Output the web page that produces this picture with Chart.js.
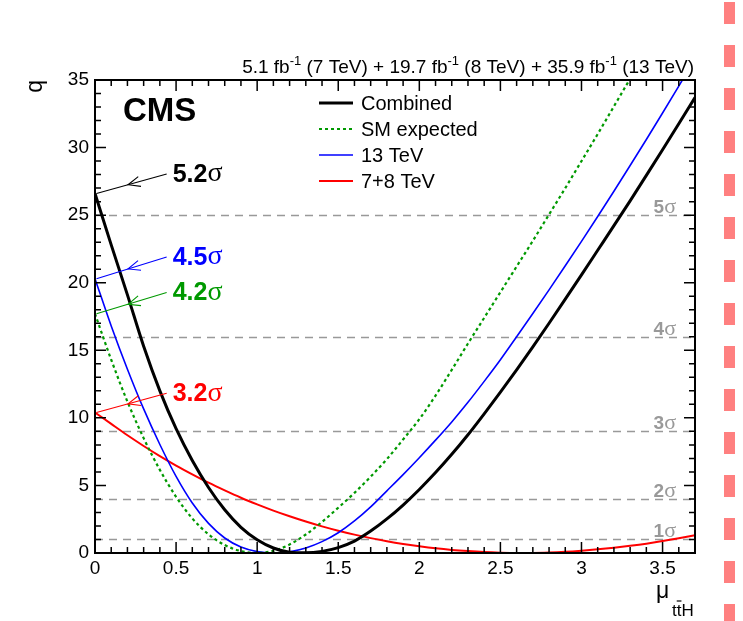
<!DOCTYPE html>
<html>
<head>
<meta charset="utf-8">
<script src="https://cdn.jsdelivr.net/npm/chart.js@4/dist/chart.umd.min.js"></script>
<style>
  html, body { margin: 0; padding: 0; background: #fff; }
  #wrap { position: relative; width: 743px; height: 621px; }
  #edge {
    position: absolute; left: 724px; top: 0; width: 11px; height: 621px;
    background: repeating-linear-gradient(to bottom, transparent 0 2px, #ff8080 2px 24px, transparent 24px 43px);
  }
</style>
</head>
<body>
<div id="wrap">
  <canvas id="chart" width="743" height="621"></canvas>
  <div id="edge"></div>
</div>
<script>
// signal strength grid
const mu = [0, 0.1, 0.2, 0.3, 0.4, 0.5, 0.6, 0.7, 0.8, 0.9,
            1.0, 1.1, 1.2, 1.3, 1.4, 1.5, 1.6, 1.7, 1.8, 1.9,
            2.0, 2.1, 2.2, 2.3, 2.4, 2.5, 2.6, 2.7, 2.8, 2.9,
            3.0, 3.1, 3.2, 3.3, 3.4, 3.5, 3.6, 3.7];

const combined = [26.6, 22.8, 19.1, 15.3, 12.0, 9.2, 6.85, 4.85, 3.2, 1.9,
                  0.98, 0.37, 0.06, 0.01, 0.12, 0.40, 0.88, 1.62, 2.52, 3.55,
                  4.7, 5.95, 7.3, 8.75, 10.3, 11.9, 13.55, 15.25, 17.0, 18.78,
                  20.58, 22.4, 24.22, 26.06, 27.94, 29.84, 31.76, 33.7];

const smExpected = [17.7, 14.3, 11.2, 8.5, 6.15, 4.16, 2.56, 1.38, 0.59, 0.14,
                    0.0, 0.16, 0.63, 1.37, 2.3, 3.35, 4.45, 5.65, 6.95, 8.4,
                    9.9, 11.65, 13.55, 15.5, 17.4, 19.3, 21.2, 23.1, 25.05, 27.0,
                    29.0, 31.0, 33.05, 35.1, 37.2, 39.3, 41.4, 43.5];

const tev13 = [20.3, 16.8, 13.6, 10.66, 8.03, 5.67, 3.7, 2.19, 1.11, 0.44,
               0.1, 0.0, 0.09, 0.37, 0.84, 1.5, 2.37, 3.41, 4.6, 5.8,
               7.05, 8.35, 9.7, 11.15, 12.7, 14.3, 16.0, 17.72, 19.47, 21.25,
               23.06, 24.9, 26.77, 28.67, 30.6, 32.56, 34.55, 36.57];

const tev78 = [10.4, 9.55, 8.71, 7.92, 7.17, 6.47, 5.82, 5.2, 4.63, 4.09,
               3.6, 3.14, 2.72, 2.33, 1.97, 1.65, 1.36, 1.1, 0.87, 0.67,
               0.5, 0.35, 0.23, 0.14, 0.07, 0.026, 0.003, 0.003, 0.03, 0.087,
               0.17, 0.27, 0.39, 0.53, 0.69, 0.88, 1.09, 1.32];

const seriesNames = ['Combined', 'SM expected', '13 TeV', '7+8 TeV'];
const seriesColors = ['#000000', '#009900', '#0000ff', '#ff0000'];

// horizontal significance levels (q = n^2)
const sigmaLevels = [1, 4, 9, 16, 25];
const sigmaNames = ['1', '2', '3', '4', '5'];

// significance at mu = 0 per series, and where its label sits (mu, q)
const signifText = ['5.2', '4.2', '4.5', '3.2'];
const signifLabelMu = [0.442, 0.442, 0.442, 0.442];
const signifLabelQ = [28.05, 19.27, 21.9, 11.82];

const SANS = '"Liberation Sans", Arial, Helvetica, sans-serif';
const SERIF = '"Liberation Serif", "Times New Roman", serif';

const pts = vals => mu.map((m, i) => ({ x: m, y: vals[i] }));
const allSeries = [combined, smExpected, tev13, tev78];
const widths = [3, 2.2, 1.6, 2];
const dashes = [[], [3, 3], [], []];

const decor = {
  id: 'decor',
  beforeDatasetsDraw(chart) {
    const { ctx, chartArea: a, scales: { x, y } } = chart;
    ctx.save();
    ctx.strokeStyle = '#999';
    ctx.lineWidth = 1.5;
    ctx.setLineDash([8, 6]);
    sigmaLevels.forEach(q => {
      const py = Math.round(y.getPixelForValue(q)) + 0.5;
      ctx.beginPath(); ctx.moveTo(a.left, py); ctx.lineTo(a.right, py); ctx.stroke();
    });
    ctx.setLineDash([]);
    ctx.fillStyle = '#999';
    ctx.textBaseline = 'alphabetic';
    sigmaLevels.forEach((q, i) => {
      const py = y.getPixelForValue(q) - 2;
      ctx.font = '22px ' + SERIF;
      ctx.textAlign = 'right';
      ctx.fillText('σ', 676, py);
      const sw = ctx.measureText('σ').width;
      ctx.font = 'bold 19px ' + SANS;
      ctx.fillText(sigmaNames[i], 676 - sw, py);
    });
    ctx.restore();
  },
  afterDraw(chart) {
    const { ctx, chartArea: a, scales: { x, y } } = chart;
    ctx.save();

    // frame
    ctx.strokeStyle = '#000';
    ctx.lineWidth = 2;
    ctx.strokeRect(a.left, a.top, a.right - a.left, a.bottom - a.top);

    // inward ticks on all four sides
    ctx.lineWidth = 1.5;
    ctx.beginPath();
    for (let k = 0; k <= 37; k++) {
      const px = x.getPixelForValue(k / 10);
      const len = k % 5 === 0 ? 11 : 6;
      ctx.moveTo(px, a.bottom); ctx.lineTo(px, a.bottom - len);
      ctx.moveTo(px, a.top); ctx.lineTo(px, a.top + len);
    }
    for (let k = 0; k <= 35; k++) {
      const py = y.getPixelForValue(k);
      const len = k % 5 === 0 ? 11 : 6;
      ctx.moveTo(a.left, py); ctx.lineTo(a.left + len, py);
      ctx.moveTo(a.right, py); ctx.lineTo(a.right - len, py);
    }
    ctx.stroke();

    // CMS
    ctx.fillStyle = '#000';
    ctx.font = 'bold 33px ' + SANS;
    ctx.textAlign = 'left';
    ctx.textBaseline = 'alphabetic';
    ctx.fillText('CMS', 123, 121);

    // lumi header
    const segs = [
      ['5.1 fb', 0], ['-1', 1], [' (7 TeV) + 19.7 fb', 0], ['-1', 1],
      [' (8 TeV) + 35.9 fb', 0], ['-1', 1], [' (13 TeV)', 0]
    ];
    const fMain = '19px ' + SANS, fSup = '13px ' + SANS;
    let total = 0;
    segs.forEach(([t, s]) => { ctx.font = s ? fSup : fMain; total += ctx.measureText(t).width; });
    let hx = 694 - total;
    segs.forEach(([t, s]) => {
      ctx.font = s ? fSup : fMain;
      ctx.fillText(t, hx, s ? 65 : 73);
      hx += ctx.measureText(t).width;
    });

    // legend
    ctx.font = '20px ' + SANS;
    ctx.textBaseline = 'middle';
    seriesNames.forEach((name, i) => {
      const ly = 103 + i * 26;
      ctx.strokeStyle = seriesColors[i];
      ctx.lineWidth = widths[i];
      ctx.setLineDash(dashes[i]);
      ctx.beginPath(); ctx.moveTo(319, ly); ctx.lineTo(353, ly); ctx.stroke();
      ctx.setLineDash([]);
      ctx.fillStyle = '#000';
      ctx.fillText(name, 361, ly + 1);
    });

    // significance arrows
    allSeries.forEach((vals, i) => {
      const col = seriesColors[i];
      const sx = x.getPixelForValue(signifLabelMu[i]);
      const sy = y.getPixelForValue(signifLabelQ[i]);
      const tx = x.getPixelForValue(mu[0]) + 1.5;
      const ty = y.getPixelForValue(vals[0]);
      ctx.strokeStyle = col;
      ctx.lineWidth = 1.1;
      ctx.beginPath(); ctx.moveTo(sx, sy); ctx.lineTo(tx, ty); ctx.stroke();
      const ang = Math.atan2(sy - ty, sx - tx);
      const mx = tx + (sx - tx) * 0.45, my = ty + (sy - ty) * 0.45;
      ctx.beginPath();
      ctx.moveTo(mx + 13 * Math.cos(ang + 0.4), my + 13 * Math.sin(ang + 0.4));
      ctx.lineTo(mx, my);
      ctx.lineTo(mx + 13 * Math.cos(ang - 0.4), my + 13 * Math.sin(ang - 0.4));
      ctx.stroke();
      ctx.fillStyle = col;
      ctx.textAlign = 'left';
      ctx.textBaseline = 'middle';
      ctx.font = 'bold 25px ' + SANS;
      ctx.fillText(signifText[i], sx + 6, sy + 1);
      const w = ctx.measureText(signifText[i]).width;
      ctx.font = '28px ' + SERIF;
      ctx.fillText('σ', sx + 6 + w, sy);
    });

    // axis titles
    ctx.fillStyle = '#000';
    ctx.textBaseline = 'alphabetic';
    ctx.textAlign = 'left';
    ctx.font = '23px ' + SANS;
    ctx.fillText('μ', 656, 598);
    ctx.font = '17px ' + SANS;
    ctx.fillText('ttH', 672, 616);
    const tw = ctx.measureText('t').width;
    ctx.strokeStyle = '#000';
    ctx.lineWidth = 1.2;
    ctx.beginPath(); ctx.moveTo(672 + tw, 601); ctx.lineTo(672 + 2 * tw, 601); ctx.stroke();

    ctx.save();
    ctx.translate(42, 80);
    ctx.rotate(-Math.PI / 2);
    ctx.textAlign = 'right';
    ctx.font = '23px ' + SANS;
    ctx.fillText('q', 0, 0);
    ctx.restore();

    ctx.restore();
  }
};

new Chart(document.getElementById('chart'), {
  type: 'line',
  data: {
    datasets: allSeries.map((vals, i) => ({
      label: seriesNames[i],
      data: pts(vals),
      borderColor: seriesColors[i],
      borderWidth: widths[i],
      borderDash: dashes[i],
      pointRadius: 0,
      fill: false,
      cubicInterpolationMode: 'monotone'
    }))
  },
  options: {
    responsive: false,
    animation: false,
    layout: { padding: { top: 80, right: 48, left: 0, bottom: 0 } },
    plugins: { legend: { display: false }, tooltip: { enabled: false } },
    scales: {
      x: {
        type: 'linear', min: 0, max: 3.7,
        grid: { display: false, drawTicks: false, tickLength: 0 },
        border: { display: false },
        ticks: {
          stepSize: 0.5, includeBounds: false, padding: 4, maxRotation: 0,
          color: '#000', font: { family: SANS, size: 19 },
          callback: v => String(Math.round(v * 10) / 10)
        },
        afterFit: s => { s.height = 68; }
      },
      y: {
        min: 0, max: 35,
        grid: { display: false, drawTicks: false, tickLength: 0 },
        border: { display: false },
        ticks: {
          stepSize: 5, padding: 6,
          color: '#000', font: { family: SANS, size: 19 }
        },
        afterFit: s => { s.width = 95; }
      }
    }
  },
  plugins: [decor]
});
</script>
</body>
</html>
